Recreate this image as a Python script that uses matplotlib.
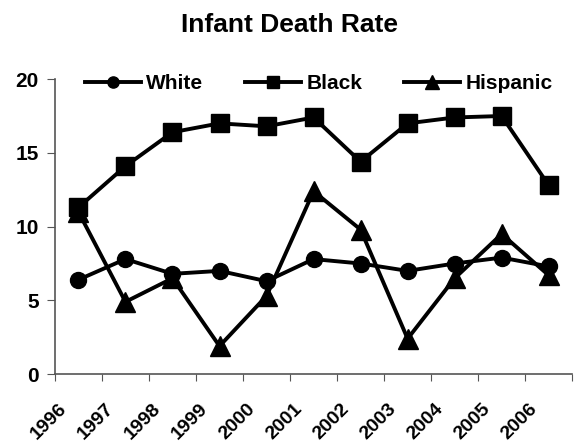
import numpy as np
import matplotlib
matplotlib.use('Agg')
import matplotlib.pyplot as plt
import matplotlib.transforms as mtransforms

years = ['1996', '1997', '1998', '1999', '2000', '2001',
         '2002', '2003', '2004', '2005', '2006']
white = [6.4, 7.8, 6.8, 7.0, 6.3, 7.8, 7.5, 7.0, 7.5, 7.9, 7.3]
black = [11.3, 14.1, 16.4, 17.0, 16.8, 17.4, 14.4, 17.0, 17.4, 17.5, 12.8]
hispanic = [11.0, 4.9, 6.5, 1.9, 5.3, 12.4, 9.8, 2.4, 6.5, 9.5, 6.7]

plt.rcParams['font.family'] = ['Liberation Sans', 'DejaVu Sans']
plt.rcParams['font.weight'] = 'bold'

fig = plt.figure(figsize=(5.78, 4.47), dpi=100)
ax = fig.add_axes([0.095, 0.163, 0.895, 0.66])

x = np.arange(len(years))
ax.plot(x, white, color='black', lw=2.8, marker='o', ms=11.5, label='White')
ax.plot(x, black, color='black', lw=2.8, marker='s', ms=13, label='Black')
ax.plot(x, hispanic, color='black', lw=2.8, marker='^', ms=14, label='Hispanic')

ax.set_xlim(-0.5, len(years) - 0.5)
ax.set_ylim(0, 20)
ax.set_yticks([0, 5, 10, 15, 20])
# ticks sit between categories, year labels at the category centres
ax.set_xticks(np.arange(len(years) + 1) - 0.5)
ax.set_xticklabels([])
ax.set_xticks(x, minor=True)
ax.set_xticklabels(years, minor=True, rotation=45, ha='right',
                   rotation_mode='anchor', fontsize=14, fontweight='bold')
ax.tick_params(axis='x', which='minor', length=0, pad=19)
ax.tick_params(axis='x', which='major', length=5, color='#555555')
ax.tick_params(axis='y', length=6, color='#555555', labelsize=15, pad=5.5)
for lab in ax.get_yticklabels():
    lab.set_fontweight('bold')
shift = mtransforms.ScaledTranslation(-20 / 100, 0, fig.dpi_scale_trans)
for lab in ax.get_xticklabels(minor=True):
    lab.set_transform(lab.get_transform() + shift)

for s in ['top', 'right']:
    ax.spines[s].set_visible(False)
for s in ['left', 'bottom']:
    ax.spines[s].set_color('#555555')
    ax.spines[s].set_linewidth(1.2)

ax.legend(loc='center', ncol=3, frameon=False,
          handlelength=2.7, columnspacing=2.0, handletextpad=0.25,
          markerscale=0.7, bbox_to_anchor=(0.51, 0.985),
          prop={'weight': 'bold', 'size': 15})

fig.text(0.5017, 0.9284, 'Infant Death Rate', fontsize=19, fontweight='bold',
         ha='center', va='baseline')

fig.savefig('out.png', dpi=100)
